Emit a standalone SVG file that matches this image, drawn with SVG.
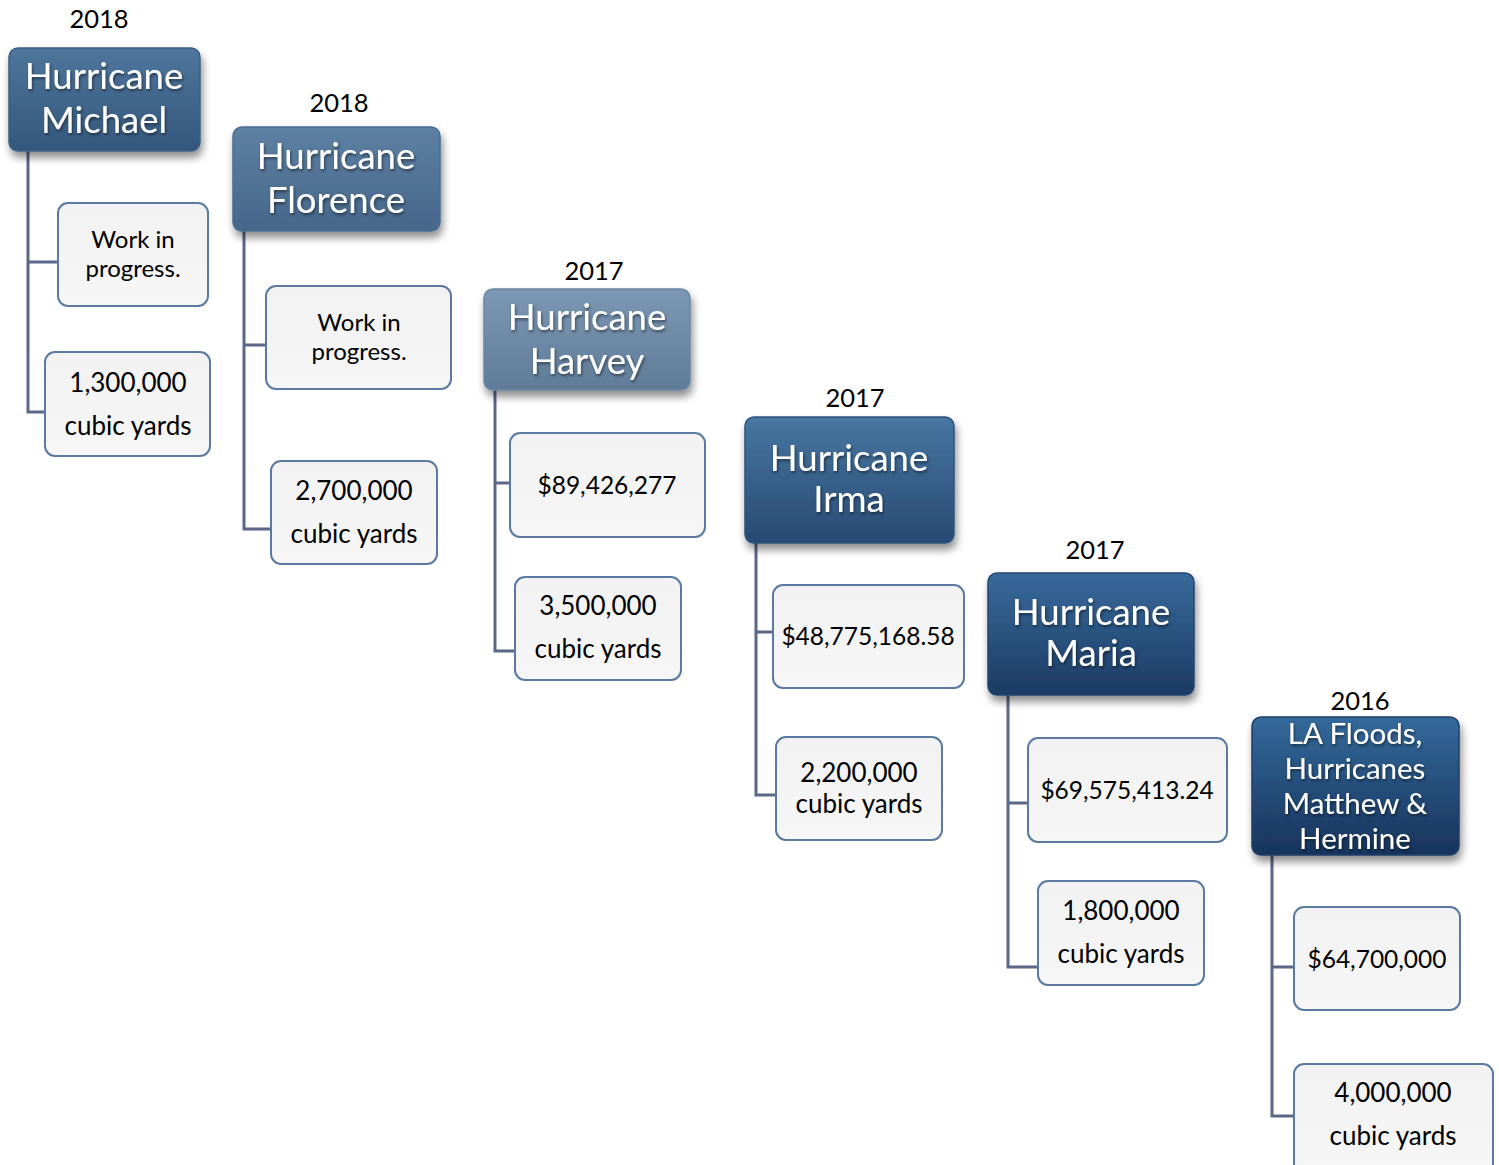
<svg xmlns="http://www.w3.org/2000/svg" width="1499" height="1165" viewBox="0 0 1499 1165">
<style>
text{font-family:Lato,"Liberation Sans",sans-serif;text-anchor:middle}
.yr{font-size:25.5px;fill:#000}
.hd{font-size:36.5px;fill:#fff}
.hs{font-size:29.5px;fill:#fff}
.ct{font-size:26px;fill:#000}
.cm{font-size:24.5px;fill:#000}
.cs{font-size:24px;fill:#000}
.child{fill:url(#gc);stroke:#5b7aa1;stroke-width:2}
.conn{fill:none;stroke:#5b6787;stroke-width:3}
</style>
<defs>
<linearGradient id="gc" x1="0" y1="0" x2="0" y2="1"><stop offset="0" stop-color="#f2f2f2"/><stop offset="1" stop-color="#f6f6f6"/></linearGradient>
<linearGradient id="g1" x1="0" y1="0" x2="0" y2="1"><stop offset="0" stop-color="#4f769c"/><stop offset="1" stop-color="#34577c"/></linearGradient>
<linearGradient id="g2" x1="0" y1="0" x2="0" y2="1"><stop offset="0" stop-color="#5e80a2"/><stop offset="1" stop-color="#46678a"/></linearGradient>
<linearGradient id="g3" x1="0" y1="0" x2="0" y2="1"><stop offset="0" stop-color="#7c98b4"/><stop offset="1" stop-color="#5f7b98"/></linearGradient>
<linearGradient id="g4" x1="0" y1="0" x2="0" y2="1"><stop offset="0" stop-color="#4777a2"/><stop offset="1" stop-color="#284a73"/></linearGradient>
<linearGradient id="g5" x1="0" y1="0" x2="0" y2="1"><stop offset="0" stop-color="#386a9b"/><stop offset="1" stop-color="#1c3b64"/></linearGradient>
<linearGradient id="g6" x1="0" y1="0" x2="0" y2="1"><stop offset="0" stop-color="#346a9b"/><stop offset="1" stop-color="#17335c"/></linearGradient>
<filter id="sh" x="-10%" y="-10%" width="130%" height="140%"><feGaussianBlur in="SourceAlpha" stdDeviation="4"/><feOffset dx="2" dy="6" result="b"/><feComponentTransfer in="b" result="c"><feFuncA type="linear" slope="0.45"/></feComponentTransfer><feMerge><feMergeNode in="c"/><feMergeNode in="SourceGraphic"/></feMerge></filter>
<filter id="ts"><feGaussianBlur in="SourceAlpha" stdDeviation="1.5"/><feOffset dx="1" dy="2" result="b"/><feComponentTransfer in="b" result="c"><feFuncA type="linear" slope="0.5"/></feComponentTransfer><feMerge><feMergeNode in="c"/><feMergeNode in="SourceGraphic"/></feMerge></filter>
</defs>
<rect width="1499" height="1165" fill="#fff"/>
<g id="connectors">
<path class="conn" d="M28 151V412H45M28 262H58"/>
<path class="conn" d="M244 231V529H271M244 345H266"/>
<path class="conn" d="M495 390V651H515M495 483H510"/>
<path class="conn" d="M756 543V795H776M756 632H773"/>
<path class="conn" d="M1008 695V967H1038M1008 803H1028"/>
<path class="conn" d="M1272 855V1116H1294M1272 967H1294"/>
</g>
<g id="michael">
<text class="yr" x="99" y="28">2018</text>
<rect x="9" y="48" width="191" height="103" rx="9" fill="url(#g1)" stroke="#3c5f84" stroke-width="1.5" filter="url(#sh)"/>
<g filter="url(#ts)"><text class="hd" x="104" y="89">Hurricane</text><text class="hd" x="104" y="133">Michael</text></g>
</g>
<g id="michael-1"><rect class="child" x="58" y="203" width="150" height="103" rx="10"/><text class="cs" x="133" y="248">Work in</text><text class="cs" x="133" y="277">progress.</text></g>
<g id="michael-2"><rect class="child" x="45" y="352" width="165" height="104" rx="10"/><text class="ct" x="128" y="392">1,300,000</text><text class="ct" x="128" y="435">cubic yards</text></g>

<g id="florence">
<text class="yr" x="339" y="112">2018</text>
<rect x="233" y="127" width="207" height="104" rx="9" fill="url(#g2)" stroke="#4a6c90" stroke-width="1.5" filter="url(#sh)"/>
<g filter="url(#ts)"><text class="hd" x="336" y="169">Hurricane</text><text class="hd" x="336" y="213">Florence</text></g>
</g>
<g id="florence-1"><rect class="child" x="266" y="286" width="185" height="103" rx="10"/><text class="cs" x="359" y="331">Work in</text><text class="cs" x="359" y="360">progress.</text></g>
<g id="florence-2"><rect class="child" x="271" y="461" width="166" height="103" rx="10"/><text class="ct" x="354" y="500">2,700,000</text><text class="ct" x="354" y="543">cubic yards</text></g>

<g id="harvey">
<text class="yr" x="594" y="280">2017</text>
<rect x="484" y="289" width="206" height="101" rx="9" fill="url(#g3)" stroke="#6b87a4" stroke-width="1.5" filter="url(#sh)"/>
<g filter="url(#ts)"><text class="hd" x="587" y="330">Hurricane</text><text class="hd" x="587" y="374">Harvey</text></g>
</g>
<g id="harvey-1"><rect class="child" x="510" y="433" width="195" height="104" rx="10"/><text class="cm" x="607" y="494">$89,426,277</text></g>
<g id="harvey-2"><rect class="child" x="515" y="577" width="166" height="103" rx="10"/><text class="ct" x="598" y="615">3,500,000</text><text class="ct" x="598" y="658">cubic yards</text></g>

<g id="irma">
<text class="yr" x="855" y="407">2017</text>
<rect x="745" y="417" width="209" height="126" rx="9" fill="url(#g4)" stroke="#2f527c" stroke-width="1.5" filter="url(#sh)"/>
<g filter="url(#ts)"><text class="hd" x="849" y="471">Hurricane</text><text class="hd" x="849" y="512">Irma</text></g>
</g>
<g id="irma-1"><rect class="child" x="773" y="585" width="191" height="103" rx="10"/><text class="cm" x="868" y="645">$48,775,168.58</text></g>
<g id="irma-2"><rect class="child" x="776" y="737" width="166" height="103" rx="10"/><text class="ct" x="859" y="782">2,200,000</text><text class="ct" x="859" y="813">cubic yards</text></g>

<g id="maria">
<text class="yr" x="1095" y="559">2017</text>
<rect x="988" y="573" width="206" height="122" rx="9" fill="url(#g5)" stroke="#254670" stroke-width="1.5" filter="url(#sh)"/>
<g filter="url(#ts)"><text class="hd" x="1091" y="625">Hurricane</text><text class="hd" x="1091" y="666">Maria</text></g>
</g>
<g id="maria-1"><rect class="child" x="1028" y="738" width="199" height="104" rx="10"/><text class="cm" x="1127" y="799">$69,575,413.24</text></g>
<g id="maria-2"><rect class="child" x="1038" y="881" width="166" height="104" rx="10"/><text class="ct" x="1121" y="920">1,800,000</text><text class="ct" x="1121" y="963">cubic yards</text></g>

<g id="la-floods">
<text class="yr" x="1360" y="710">2016</text>
<rect x="1252" y="717" width="207" height="138" rx="9" fill="url(#g6)" stroke="#203f68" stroke-width="1.5" filter="url(#sh)"/>
<g filter="url(#ts)"><text class="hs" x="1355" y="744">LA Floods,</text><text class="hs" x="1355" y="779">Hurricanes</text><text class="hs" x="1355" y="814">Matthew &amp;</text><text class="hs" x="1355" y="849">Hermine</text></g>
</g>
<g id="la-1"><rect class="child" x="1294" y="907" width="166" height="103" rx="10"/><text class="cm" x="1377" y="968">$64,700,000</text></g>
<g id="la-2"><rect class="child" x="1294" y="1064" width="199" height="110" rx="10"/><text class="ct" x="1393" y="1102">4,000,000</text><text class="ct" x="1393" y="1145">cubic yards</text></g>
</svg>
